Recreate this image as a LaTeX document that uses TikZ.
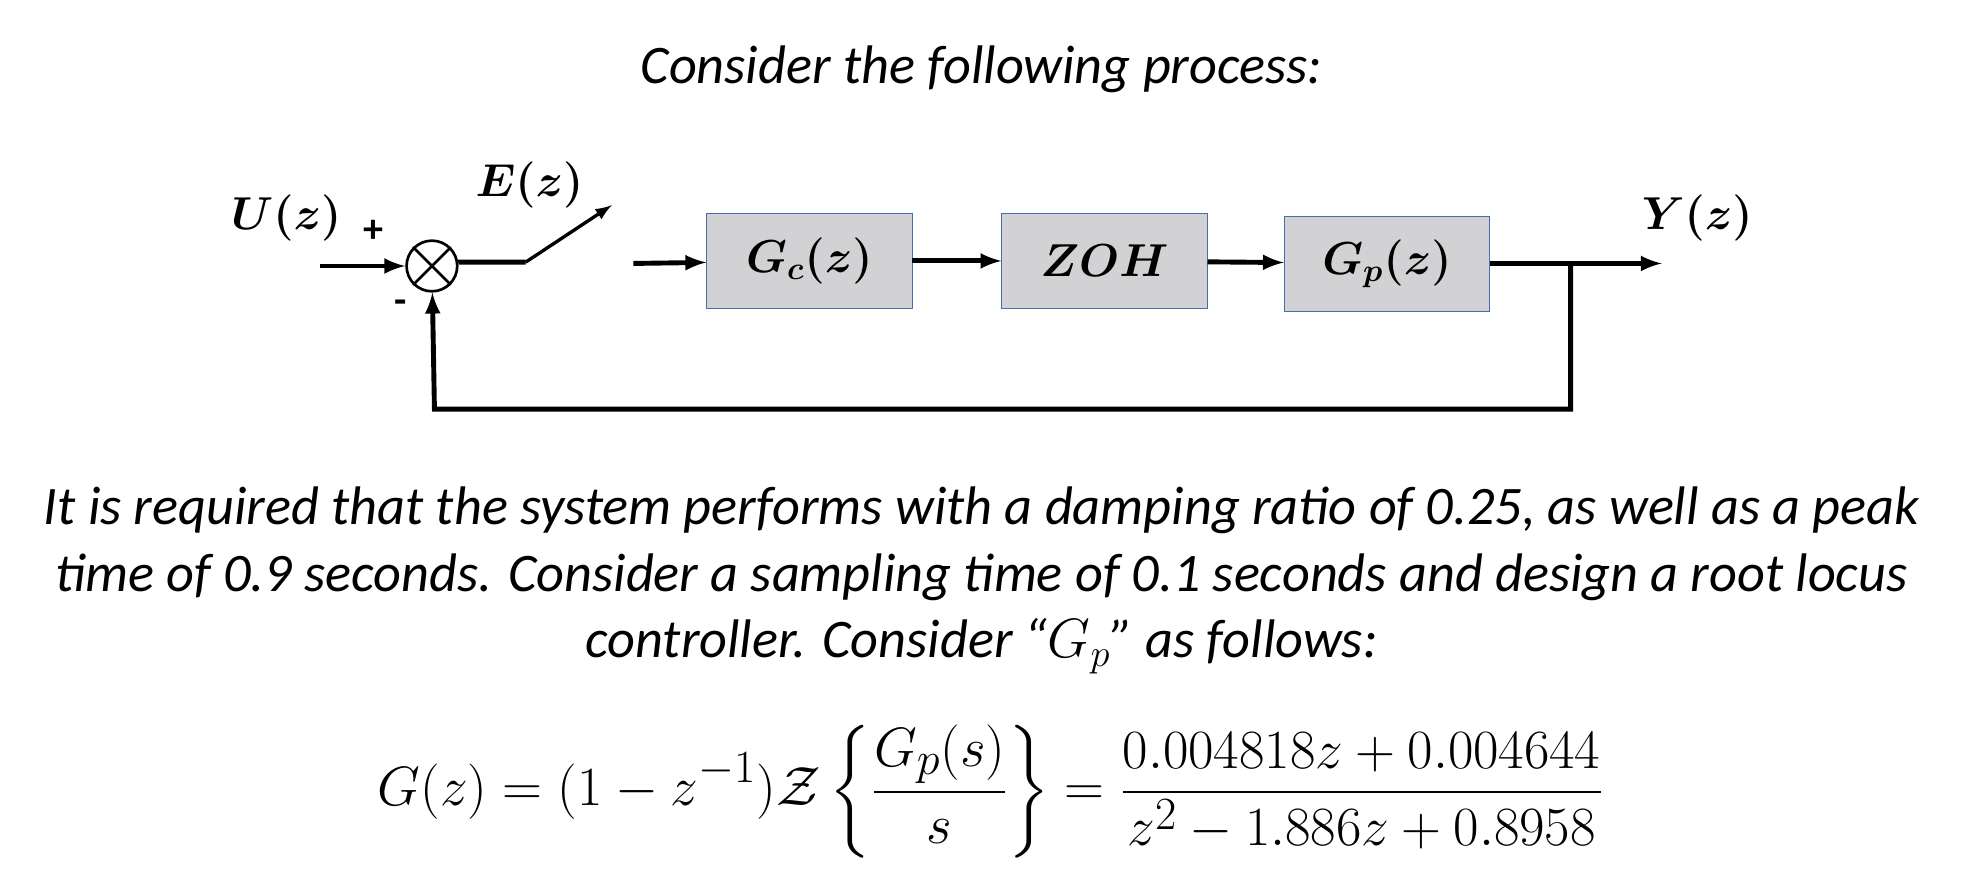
\documentclass[tikz,border=0pt]{standalone}
\usepackage{amsmath}
\usepackage{bm}
\usepackage{fontspec}
\setmainfont{Carlito}
\definecolor{boxfill}{RGB}{210,210,212}
\definecolor{boxline}{RGB}{70,110,170}
\tikzset{
  blk/.style={draw=boxline, fill=boxfill, minimum width=162*0.02cm, minimum height=75*0.02cm, font=\fontsize{21}{25}\selectfont},
  sig/.style={line width=2.2pt},
  lbl/.style={font=\fontsize{21}{25}\selectfont},
  txt/.style={font=\fontsize{24.4}{30}\selectfont\itshape}
}
\begin{document}
\begin{tikzpicture}[x=0.02cm, y=-0.02cm, >=latex]
    \useasboundingbox (0,0) rectangle (1568,707);
    \node[txt] (title) at (775,55) {Consider the following process:};

    \node[draw, circle, line width=1.2pt, minimum size=40*0.02cm] (S) at (341,210) {};
    \draw[line width=1.2pt] (S.45) -- (S.225) (S.135) -- (S.315);
    \coordinate (in)  at (253,210);
    \coordinate (sw1) at (415,207);
    \coordinate (sw2) at (483,162);
    \coordinate (sw3) at (500,208);
    \node[blk] (Gc)  at (639,206) {$\bm{G_c(z)}$};
    \node[blk] (ZOH) at (872,206) {$\bm{ZOH}$};
    \node[blk] (Gp)  at (1095,208) {$\bm{G_p(z)}$};
    \coordinate (br)  at (1240,208);
    \coordinate (out) at (1312,208);
    \coordinate (fb1) at (1240,323);
    \coordinate (fb2) at (343,323);

    \node[lbl] (U) at (226,172) {$\bm{U(z)}$};
    \node[lbl] (E) at (418,146) {$\bm{E(z)}$};
    \node[lbl] (Y) at (1340,172) {$\bm{Y(z)}$};
    \node[font=\bfseries\fontsize{18}{18}\selectfont] (plus) at (295,183) {+};
    \node[font=\bfseries\fontsize{18}{18}\selectfont] (minus) at (316,242) {-};

    \draw[sig, ->] (in) -- (S);
    \draw[sig] (S) -- (sw1 -| S.east) -- (sw1);
    \draw[line width=1.5pt, ->] (sw1) -- (sw2);
    \draw[sig, ->] (sw3) -- (Gc);
    \draw[sig, ->] (Gc) -- (ZOH);
    \draw[sig, ->] (ZOH) -- (Gp);
    \draw[sig, ->] (Gp) -- (out);
    \draw[sig, ->] (br) -- (fb1) -- (fb2) -- (S);

    \node[txt, align=center] (para) at (775,458) {It is required that the system performs with a damping ratio of 0.25, as well as a peak\\ time of 0.9 seconds. Consider a sampling time of 0.1 seconds and design a root locus\\ controller. Consider “$G_p$” as follows:};
    \node[font=\fontsize{30}{35}\selectfont] (eq) at (782,625) {$\displaystyle G(z) = (1-z^{-1})\mathcal{Z}\left\{\frac{G_p(s)}{s}\right\} = \frac{0.004818z+0.004644}{z^2-1.886z+0.8958}$};
\end{tikzpicture}
\end{document}
